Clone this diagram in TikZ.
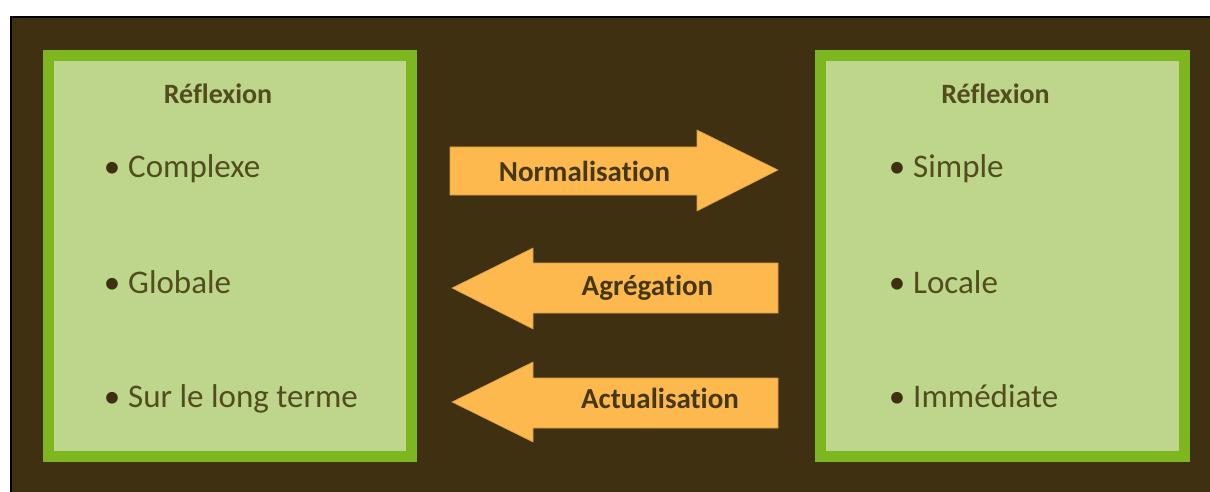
\documentclass[tikz,border=0pt]{standalone}
\usepackage{fontspec}
\setmainfont{Carlito}[Ligatures=NoCommon]
\begin{document}
\definecolor{bgbrown}{HTML}{3F3011}
\definecolor{boxedge}{HTML}{7DB61F}
\definecolor{boxfill}{HTML}{BDD68C}
\definecolor{boxtext}{HTML}{524D1D}
\definecolor{dotcol}{HTML}{3E2F10}
\definecolor{arrowfill}{HTML}{FDB84E}
\definecolor{arrowtext}{HTML}{453714}
\begin{tikzpicture}[x=1pt,y=-1pt,
  panel/.style={draw=boxedge,fill=boxfill,line width=10.5pt},
  heading/.style={anchor=base,text=boxtext,inner sep=0pt,font=\fontsize{28}{30}\selectfont\bfseries},
  item/.style={anchor=base west,text=boxtext,inner sep=0pt,font=\fontsize{33}{36}\selectfont},
  bigarrow/.style={fill=arrowfill,draw=arrowfill!85!black,line width=0.6pt,line join=miter},
  arrowlabel/.style={anchor=base,text=arrowtext,inner sep=0pt,font=\fontsize{29}{32}\selectfont\bfseries}]
  \newcommand{\dotitem}{\llap{{\color{dotcol}\textbullet}\hspace{8pt}}}
  % page area with thin black frame on the top and left
  \useasboundingbox (0,0) rectangle (1210,492);
  \fill[white] (0,0) rectangle (1210,492);
  \fill[bgbrown] (11,17) rectangle (1210,492);
  \draw[black,line width=2pt] (11,492) -- (11,17) -- (1210,17);
  % the two panels
  \draw[panel] (48.5,55.5) rectangle (411.5,456.5);
  \draw[panel] (820.5,55.5) rectangle (1184.5,456.5);
  % left panel text
  \node[heading] (lt) at (218,104) {Réflexion};
  \node[item] (l1) at (128,178) {\dotitem Complexe};
  \node[item] (l2) at (128,293) {\dotitem Globale};
  \node[item] (l3) at (128,407) {\dotitem Sur le long terme};
  % right panel text
  \node[heading] (rt) at (995.5,104) {Réflexion};
  \node[item] (r1) at (913,177) {\dotitem Simple};
  \node[item] (r2) at (913,293) {\dotitem Locale};
  \node[item] (r3) at (913,407) {\dotitem Immédiate};
  % block arrows between the panels
  \draw[bigarrow] (450,147) -- (697,147) -- (697,130) -- (778,170)
    -- (697,211) -- (697,195) -- (450,195) -- cycle;
  \draw[bigarrow] (778,263) -- (533,263) -- (533,248) -- (452,288)
    -- (533,329) -- (533,313) -- (778,313) -- cycle;
  \draw[bigarrow] (778,378) -- (533,378) -- (533,362) -- (452,402)
    -- (533,442) -- (533,428) -- (778,428) -- cycle;
  \node[arrowlabel] (a1) at (584.5,182) {Normalisation};
  \node[arrowlabel] (a2) at (647.5,295) {Agrégation};
  \node[arrowlabel] (a3) at (660,408) {Actualisation};
\end{tikzpicture}
\end{document}
